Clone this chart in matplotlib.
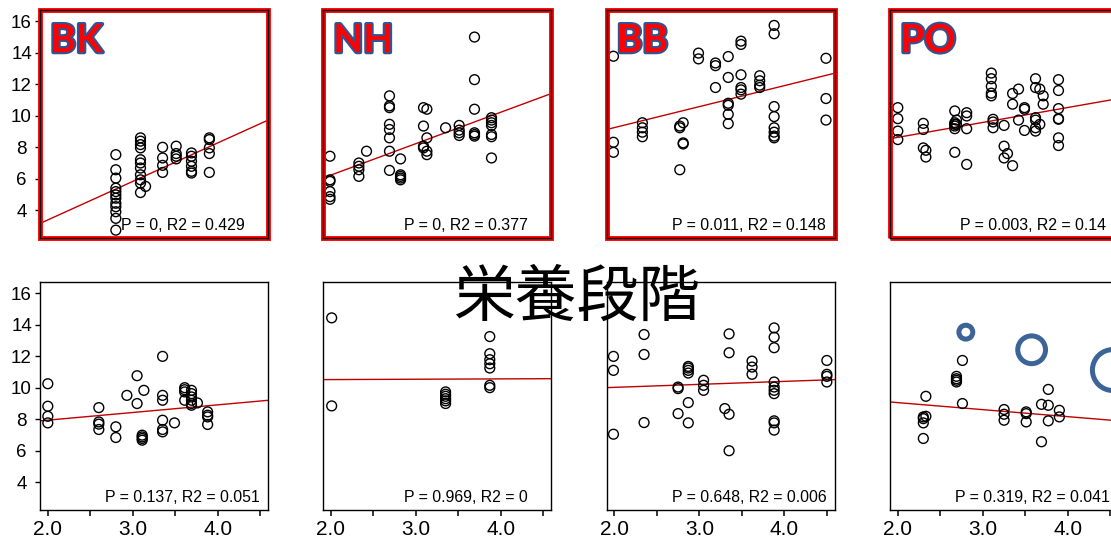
import numpy as np
import matplotlib.pyplot as plt
import matplotlib.patheffects as pe
from matplotlib.patches import Rectangle

plt.rcParams['font.family'] = ['Liberation Sans', 'DejaVu Sans']

# points grouped by x (trophic level) -> list of y values
bk_pts = [(2.80, [7.52, 6.56, 6.03, 5.39, 5.17, 4.96, 4.75, 4.43, 4.21, 3.89, 3.47, 2.72]),
          (3.09, [8.59, 8.38, 8.16, 7.95, 7.20, 6.99, 6.67, 6.24, 5.92, 5.71, 5.11]),
          (3.15, [5.50]),
          (3.35, [7.99, 7.31, 6.84, 6.39]),
          (3.51, [8.06, 7.59, 7.42, 7.25]),
          (3.69, [7.63, 7.42, 7.10, 6.78, 6.46, 6.35]),
          (3.90, [8.59, 8.48, 7.95, 7.59, 6.39])]
nh_pts = [(1.99, [7.42, 5.92, 5.82, 5.17, 4.85, 4.68]),
          (2.33, [6.99, 6.78, 6.56, 6.14]),
          (2.42, [7.74]),
          (2.69, [11.26, 10.62, 10.51, 9.45, 9.12, 8.59, 7.74, 6.52]),
          (2.82, [7.25, 6.24, 6.14, 6.03, 5.92]),
          (3.09, [10.51, 9.34, 8.06, 7.95]),
          (3.13, [10.41, 8.59, 7.74, 7.52]),
          (3.35, [9.23]),
          (3.51, [9.38, 9.08, 8.91, 8.74]),
          (3.69, [15.0, 12.29, 10.41, 8.91, 8.80, 8.70]),
          (3.89, [9.87, 9.72, 9.55, 9.38, 8.80, 8.66, 7.31])]
bb_pts = [(1.99, [13.78, 8.31, 7.67]),
          (2.33, [9.55, 9.23, 8.95, 8.66]),
          (2.77, [9.34, 9.23, 6.56]),
          (2.81, [9.55, 8.27, 8.20]),
          (2.99, [13.98, 13.61]),
          (3.19, [13.35, 13.18, 11.79]),
          (3.34, [13.76, 12.43, 10.79, 10.66, 10.09, 9.49]),
          (3.49, [14.74, 14.53, 12.60, 11.79, 11.64, 11.37]),
          (3.71, [12.54, 12.22, 11.94, 11.79]),
          (3.88, [15.74, 15.21, 10.58, 9.94, 9.23, 8.95, 8.70, 8.59]),
          (4.49, [13.65, 11.09, 9.72])]
po_pts = [(2.00, [10.51, 9.81, 9.02, 8.48]),
          (2.30, [9.51, 9.12, 7.95]),
          (2.33, [7.80, 7.37]),
          (2.67, [10.30, 9.55, 9.45, 9.34, 9.17, 7.67]),
          (2.69, [9.72, 9.45]),
          (2.81, [10.19, 9.98, 9.17, 6.90]),
          (3.10, [12.71, 12.35, 11.86, 11.43, 11.26]),
          (3.12, [9.77, 9.60, 9.23]),
          (3.25, [9.38, 8.06, 7.31]),
          (3.29, [7.59]),
          (3.35, [11.41, 10.73, 6.82]),
          (3.42, [11.69, 9.72]),
          (3.49, [10.51, 10.41, 9.06]),
          (3.62, [12.35, 11.79, 9.87, 9.72, 9.23, 9.02]),
          (3.67, [11.69, 9.45]),
          (3.71, [11.26, 10.73]),
          (3.89, [12.29, 11.60, 10.45, 9.81, 9.77, 8.59, 8.10])]
low1_pts = [(2.00, [10.25, 8.82, 8.18, 7.76]),
            (2.60, [8.73, 7.82, 7.68, 7.34]),
            (2.80, [7.51, 6.83]),
            (2.93, [9.51]),
            (3.05, [10.76, 8.99]),
            (3.11, [6.98, 6.87, 6.77, 6.66]),
            (3.13, [9.83]),
            (3.35, [11.99, 9.51, 9.20, 7.93, 7.34, 7.19]),
            (3.49, [7.76]),
            (3.61, [10.0, 9.87, 9.73, 9.20]),
            (3.69, [9.83, 9.62, 9.41, 9.20, 8.99, 8.88]),
            (3.76, [9.03]),
            (3.88, [8.46, 8.25, 8.14, 7.66])]
low2_pts = [(2.01, [14.44, 8.84]),
            (3.35, [9.73, 9.58, 9.45, 9.30, 9.16, 8.99]),
            (3.87, [13.25, 12.16, 11.78, 11.52, 11.25, 10.15, 10.0])]
low3_pts = [(1.99, [11.99, 11.10, 7.04]),
            (2.35, [13.38, 12.11, 7.78]),
            (2.75, [10.04, 9.94, 8.35]),
            (2.87, [11.35, 11.25, 11.10, 10.93, 9.05, 7.76]),
            (3.05, [10.47, 10.15, 9.83]),
            (3.30, [8.67]),
            (3.35, [13.42, 12.22, 8.31, 5.99]),
            (3.62, [11.69, 11.31, 10.85]),
            (3.88, [13.80, 13.21, 12.54, 10.36, 10.04, 9.83, 9.62, 7.89, 7.76, 7.30]),
            (4.50, [11.73, 10.85, 10.72, 10.36])]
low4_pts = [(2.30, [6.77, 7.76, 8.14, 8.03]),
            (2.33, [9.45, 8.18]),
            (2.69, [10.72, 10.57, 10.47, 10.36]),
            (2.76, [11.73, 8.99]),
            (3.25, [8.61, 8.31, 7.93]),
            (3.51, [8.46, 8.35, 7.82]),
            (3.69, [8.94, 6.56]),
            (3.77, [9.89, 8.88, 7.89]),
            (3.90, [8.56, 8.14])]

all_pts = [bk_pts, nh_pts, bb_pts, po_pts, low1_pts, low2_pts, low3_pts, low4_pts]
labels = ["BK", "NH", "BB", "PO"]
slopes = [2.45, 2.0, 1.335, 0.95, 0.487, 0.022, 0.19, -0.446]
intercepts = [-1.53, 2.22, 6.57, 6.72, 6.96, 10.47, 9.64, 9.94]
stats = ["P = 0, R2 = 0.429", "P = 0, R2 = 0.377", "P = 0.011, R2 = 0.148", "P = 0.003, R2 = 0.14",
         "P = 0.137, R2 = 0.051", "P = 0.969, R2 = 0", "P = 0.648, R2 = 0.006", "P = 0.319, R2 = 0.041"]

# the blue open circles in the last panel (size key)
bubble_x = [2.80, 3.574, 4.53]
bubble_y = [13.53, 12.41, 11.12]
bubble_s = [100, 400, 870]

W, H = 1111, 539
fig = plt.figure(figsize=(W / 100, H / 100), dpi=100)
lefts = [40, 323, 606.5, 890]
tops = [10, 282]
xlim = (1.908, 4.59)

for i, pts in enumerate(all_pts):
    row, col = i // 4, i % 4
    ax = fig.add_axes([lefts[col] / W, 1 - (tops[row] + 228) / H, 228 / W, 228 / H])
    xs = np.concatenate([[x] * len(ys) for x, ys in pts])
    ys = np.concatenate([ys for x, ys in pts])
    ax.scatter(xs, ys, s=50, facecolors='none', edgecolors='black', linewidths=1.0, zorder=3)
    xl = np.array(xlim)
    ax.plot(xl, slopes[i] * xl + intercepts[i], color='#C00000', lw=1.0, zorder=2)
    ax.set_xlim(*xlim)
    ax.set_ylim(2.22, 16.72)
    ax.set_xticks([2, 3, 4])
    ax.set_xticklabels(["2.0", "3.0", "4.0"])
    ax.set_xticks([2.5, 3.5, 4.5], minor=True)
    ax.set_yticks([4, 6, 8, 10, 12, 14, 16])
    ax.tick_params(axis='x', which='both', length=4.3, width=1.1, labelsize=15, pad=3)
    ax.tick_params(axis='y', length=3.6, width=1.0, labelsize=13.5, pad=9.7)
    for lb in ax.get_yticklabels():
        lb.set_horizontalalignment('center')
    for s in ax.spines.values():
        s.set_linewidth(1.0)
        s.set_zorder(5)
    if row == 0:
        ax.tick_params(axis='x', which='both', bottom=False, labelbottom=False)
        ax.add_patch(Rectangle((0, 0), 1, 1, transform=ax.transAxes, fill=False,
                               edgecolor='#FF0000', lw=3.5, clip_on=False, zorder=4))
        ax.text(0.045, 0.815, labels[col], transform=ax.transAxes, fontsize=28,
                fontweight='bold', family='Lato', color='#FF0000', zorder=6,
                path_effects=[pe.Stroke(linewidth=3, foreground='#2F5597'), pe.Normal()])
    if col > 0:
        ax.tick_params(axis='y', left=False, labelleft=False)
    ax.text(0.625, 0.055, stats[i], transform=ax.transAxes, ha='center', va='center',
            fontsize=11.4, zorder=6)
    if i == 7:
        ax.scatter(bubble_x, bubble_y, s=bubble_s, facecolors='none', edgecolors='#3D6496',
                   linewidths=3.6, zorder=4)

fig.text(576.5 / W, 1 - 298 / H, "栄養段階", ha='center', va='center', fontsize=44.5,
         family=['Noto Sans CJK JP', 'DejaVu Sans'])

fig.savefig("out.png", dpi=100)
